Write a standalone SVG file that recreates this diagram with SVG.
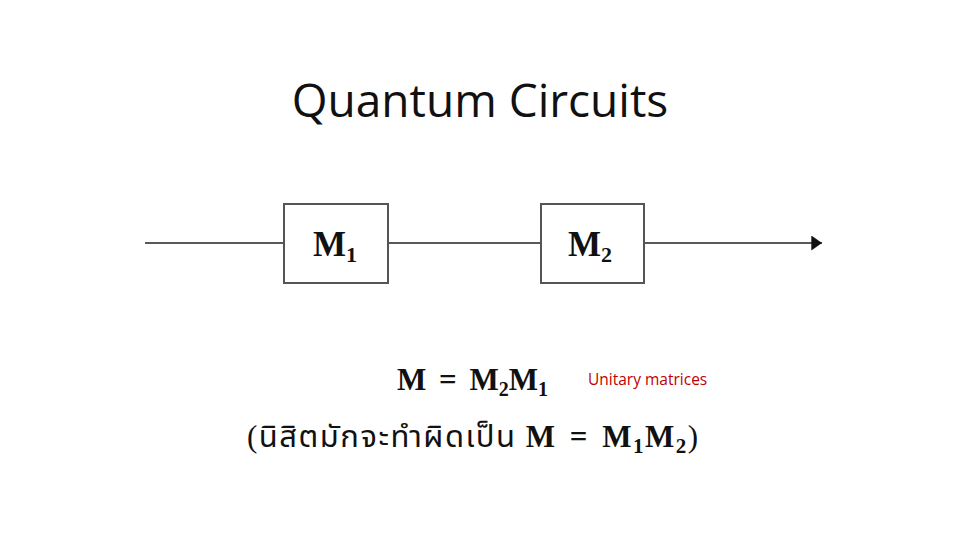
<svg xmlns="http://www.w3.org/2000/svg" width="960" height="540" viewBox="0 0 960 540">
<defs>
<style>
.box{fill:#fff;stroke:#555;stroke-width:2}
.wire{stroke:#222;stroke-width:1.5;fill:none}
.lbl{font-family:"Liberation Serif",serif;font-weight:bold;font-size:35px;fill:#111}
.sub{font-size:22px}
.eq{font-family:"Liberation Serif","Noto Sans Thai","Noto Serif Thai",serif;font-size:31px;fill:#111}
</style>
<marker id="arr" viewBox="0 0 10 14" refX="10" refY="7" markerWidth="11" markerHeight="15" markerUnits="userSpaceOnUse" orient="auto"><path d="M0,0 L10,7 L0,14 Z" fill="#111"/></marker>
</defs>
<rect width="960" height="540" fill="#fff"/>
<text x="480" y="117" text-anchor="middle" font-family="Open Sans, Liberation Sans, sans-serif" font-size="46" fill="#111">Quantum Circuits</text>
<g id="connectors">
<line class="wire" x1="145" y1="243" x2="284" y2="243"/>
<line class="wire" x1="388" y1="243" x2="541" y2="243"/>
<line class="wire" x1="644" y1="243" x2="822" y2="243" marker-end="url(#arr)"/>
</g>
<g id="m1">
<rect class="box" x="284" y="204" width="104" height="79"/>
<text class="lbl" x="313" y="256">M<tspan class="sub" dy="6">1</tspan></text>
</g>
<g id="m2">
<rect class="box" x="541" y="204" width="103" height="79"/>
<text class="lbl" x="568" y="256">M<tspan class="sub" dy="6">2</tspan></text>
</g>
<text class="eq" x="397" y="390" font-weight="bold" word-spacing="5">M = M<tspan font-size="20" dy="6">2</tspan><tspan dy="-6">M</tspan><tspan font-size="20" dy="6">1</tspan></text>
<text x="588" y="385" font-family="Open Sans, Liberation Sans, sans-serif" font-size="15.5" fill="#c00000">Unitary matrices</text>
<text class="eq" x="247" y="447" font-size="33" letter-spacing="1.5">(นิสิตมักจะทำผิดเป็น <tspan font-weight="bold" word-spacing="4">M = M<tspan font-size="21" dy="6">1</tspan><tspan dy="-6">M</tspan><tspan font-size="21" dy="6">2</tspan></tspan><tspan dy="-6">)</tspan></text>
</svg>
